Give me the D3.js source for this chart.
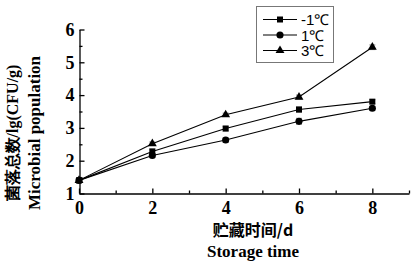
<!DOCTYPE html>
<html>
<head>
<meta charset="utf-8">
<script src="https://cdn.jsdelivr.net/npm/d3@7"></script>
<style>
  body { margin: 0; background: #fff; }
  svg { display: block; }
</style>
</head>
<body>
<svg width="414" height="264"></svg>
<script>
// storage days
const days = [0, 2, 4, 6, 8];
// series (lg CFU/g)
const seriesNames = ['-1\u2103', '1\u2103', '3\u2103'];
const valsM1 = [1.40, 2.28, 2.98, 3.56, 3.80];
const vals1 = [1.40, 2.16, 2.63, 3.20, 3.60];
const vals3 = [1.40, 2.52, 3.40, 3.94, 5.46];
const errM1 = [0.06, 0.08, 0.07, 0.08, 0.06];
const err1 = [0.06, 0.06, 0.07, 0.09, 0.06];
const err3 = [0.06, 0.05, 0.05, 0.06, 0.07];
const xTicks = [0, 2, 4, 6, 8];
const xMinor = [1, 3, 5, 7, 9];
const yTicks = [1, 2, 3, 4, 5, 6];
const yMinor = [1.5, 2.5, 3.5, 4.5, 5.5];

const series = [
  {name: seriesNames[0], vals: valsM1, err: errM1, sym: d3.symbolSquare, size: 36},
  {name: seriesNames[1], vals: vals1, err: err1, sym: d3.symbolCircle, size: 40},
  {name: seriesNames[2], vals: vals3, err: err3, sym: d3.symbolTriangle, size: 34}
];

const svg = d3.select('svg');
const x = d3.scaleLinear().domain([0, 9]).range([79, 409]);
const y = d3.scaleLinear().domain([1, 6]).range([193.5, 29.5]);

const serif = '"Liberation Serif", "Times New Roman", serif';

// x axis
svg.append('g').attr('transform', 'translate(0,193.5)')
  .call(d3.axisBottom(x).tickValues(xTicks).tickSizeInner(-5).tickSizeOuter(0).tickPadding(8).tickFormat(d3.format('d')));
svg.append('g').attr('transform', 'translate(0,193.5)')
  .call(d3.axisBottom(x).tickValues(xMinor).tickSizeInner(-3).tickSizeOuter(0).tickFormat(''))
  .select('.domain').remove();

// y axis
svg.append('g').attr('transform', 'translate(79.5,0)')
  .call(d3.axisLeft(y).tickValues(yTicks).tickSizeInner(-5).tickSizeOuter(0).tickPadding(5).tickFormat(d3.format('d')));
svg.append('g').attr('transform', 'translate(79.5,0)')
  .call(d3.axisLeft(y).tickValues(yMinor).tickSizeInner(-3).tickSizeOuter(0).tickFormat(''))
  .select('.domain').remove();

svg.selectAll('.tick text')
  .style('font-family', serif).style('font-weight', 'bold').style('font-size', '18px').attr('fill', '#000');
svg.selectAll('.domain, .tick line').attr('stroke', '#000').attr('stroke-width', 1.3);

// error bars
series.forEach(s => {
  const g = svg.append('g').attr('stroke', '#999').attr('stroke-width', 1.2);
  days.forEach((d, i) => {
    g.append('line').attr('x1', x(d)).attr('x2', x(d))
      .attr('y1', y(s.vals[i] - s.err[i])).attr('y2', y(s.vals[i] + s.err[i]));
    [-1, 1].forEach(k => g.append('line')
      .attr('x1', x(d) - 3).attr('x2', x(d) + 3)
      .attr('y1', y(s.vals[i] + k * s.err[i])).attr('y2', y(s.vals[i] + k * s.err[i])));
  });
});

// lines + markers
const line = d3.line().x((d, i) => x(days[i])).y(d => y(d));
series.forEach(s => {
  svg.append('path').datum(s.vals).attr('d', line)
    .attr('fill', 'none').attr('stroke', '#000').attr('stroke-width', 1.1);
  svg.append('g').selectAll('path').data(s.vals).join('path')
    .attr('transform', (d, i) => `translate(${x(days[i])},${y(d)})`)
    .attr('d', d3.symbol().type(s.sym).size(s.size))
    .attr('fill', '#000');
});

// legend
const lg = svg.append('g');
lg.append('rect').attr('x', 256.5).attr('y', 6.5).attr('width', 77).attr('height', 56)
  .attr('fill', '#fff').attr('stroke', '#777').attr('stroke-width', 1);
series.forEach((s, i) => {
  const yy = 19.5 + i * 15.5;
  lg.append('line').attr('x1', 263).attr('x2', 297).attr('y1', yy).attr('y2', yy)
    .attr('stroke', '#000').attr('stroke-width', 1.1);
  lg.append('path').attr('transform', `translate(280,${yy})`)
    .attr('d', d3.symbol().type(s.sym).size(s.size)).attr('fill', '#000');
  lg.append('text').attr('x', 301).attr('y', yy + 5.5).text(s.name)
    .style('font-family', '"Liberation Sans", Arial, sans-serif').style('font-size', '15px');
});

// axis titles
const t = svg.append('g').style('font-family', serif).style('font-weight', 'bold').attr('fill', '#000');
t.append('text').attr('x', 253).attr('y', 236).attr('text-anchor', 'middle')
  .style('font-size', '16px').style('font-family', '"Noto Sans CJK SC", serif')
  .text('贮藏时间/d');
t.append('text').attr('x', 253).attr('y', 257).attr('text-anchor', 'middle')
  .style('font-size', '17px').text('Storage time');
t.append('text').attr('transform', 'translate(18,133) rotate(-90)').attr('text-anchor', 'middle')
  .style('font-size', '16px').text('菌落总数/lg(CFU/g)');
t.append('text').attr('transform', 'translate(40,133) rotate(-90)').attr('text-anchor', 'middle')
  .style('font-size', '17px').text('Microbial population');
</script>
</body>
</html>
